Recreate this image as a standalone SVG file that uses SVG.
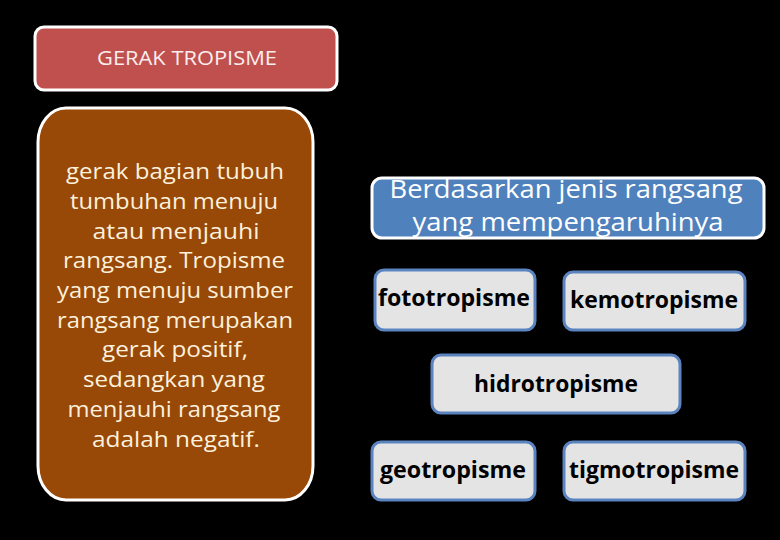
<svg xmlns="http://www.w3.org/2000/svg" width="780" height="540" viewBox="0 0 780 540">
<style>
.bg{fill:#000}
.wbox{stroke:#fff;stroke-width:3}
.item{fill:#e4e4e4;stroke:#5b83c0;stroke-width:3}
.itxt{font-family:"Open Sans","Noto Sans",sans-serif;font-weight:bold;font-size:23px;fill:#000;text-anchor:middle}
.ltxt{font-family:"Open Sans","Noto Sans",sans-serif;font-size:22.5px;fill:#fbf1dc;text-anchor:middle}
.ttl{font-family:"Open Sans","Noto Sans",sans-serif;font-size:20px;fill:#fbeeee;text-anchor:middle}
.btxt{font-family:"Open Sans","Noto Sans",sans-serif;font-size:25px;fill:#fff;text-anchor:middle}
</style>
<defs>
<clipPath id="bclip"><rect x="372" y="178" width="392" height="60" rx="10"/></clipPath>
</defs>
<rect class="bg" x="0" y="0" width="780" height="540"/>
<g id="connectors"></g>
<g id="title">
<rect class="wbox" x="35" y="27" width="302" height="63" rx="9" fill="#c0504d"/>
<text class="ttl" x="187" y="65" textLength="180" lengthAdjust="spacingAndGlyphs">GERAK TROPISME</text>
</g>
<g id="definition">
<rect class="wbox" x="38" y="108" width="275" height="392" rx="28" ry="34" fill="#984807"/>
<text class="ltxt" x="175" y="179" textLength="218" lengthAdjust="spacingAndGlyphs">gerak bagian tubuh</text>
<text class="ltxt" x="174" y="209" textLength="208" lengthAdjust="spacingAndGlyphs">tumbuhan menuju</text>
<text class="ltxt" x="176" y="239" textLength="167" lengthAdjust="spacingAndGlyphs">atau menjauhi</text>
<text class="ltxt" x="174" y="268" textLength="222" lengthAdjust="spacingAndGlyphs">rangsang. Tropisme</text>
<text class="ltxt" x="175" y="298" textLength="236" lengthAdjust="spacingAndGlyphs">yang menuju sumber</text>
<text class="ltxt" x="175" y="328" textLength="236" lengthAdjust="spacingAndGlyphs">rangsang merupakan</text>
<text class="ltxt" x="175" y="357" textLength="146" lengthAdjust="spacingAndGlyphs">gerak positif,</text>
<text class="ltxt" x="174" y="387" textLength="182" lengthAdjust="spacingAndGlyphs">sedangkan yang</text>
<text class="ltxt" x="174" y="417" textLength="213" lengthAdjust="spacingAndGlyphs">menjauhi rangsang</text>
<text class="ltxt" x="176" y="447" textLength="168" lengthAdjust="spacingAndGlyphs">adalah negatif.</text>
</g>
<g id="category">
<rect x="372" y="178" width="392" height="60" rx="10" fill="#4f81bd"/>
<g clip-path="url(#bclip)">
<text class="btxt" x="566" y="198" textLength="353" lengthAdjust="spacingAndGlyphs">Berdasarkan jenis rangsang</text>
<text class="btxt" x="568" y="231" textLength="311" lengthAdjust="spacingAndGlyphs">yang mempengaruhinya</text>
</g>
<rect x="372" y="178" width="392" height="60" rx="10" fill="none" stroke="#fff" stroke-width="3"/>
</g>
<g id="fototropisme">
<rect class="item" x="375" y="270" width="160" height="60" rx="9"/>
<text class="itxt" x="454" y="306" textLength="152" lengthAdjust="spacingAndGlyphs">fototropisme</text>
</g>
<g id="kemotropisme">
<rect class="item" x="564" y="272" width="181" height="58" rx="9"/>
<text class="itxt" x="654" y="308" textLength="168" lengthAdjust="spacingAndGlyphs">kemotropisme</text>
</g>
<g id="hidrotropisme">
<rect class="item" x="432" y="355" width="248" height="58" rx="9"/>
<text class="itxt" x="556" y="392" textLength="164" lengthAdjust="spacingAndGlyphs">hidrotropisme</text>
</g>
<g id="geotropisme">
<rect class="item" x="372" y="442" width="163" height="58" rx="9"/>
<text class="itxt" x="453" y="478" textLength="146" lengthAdjust="spacingAndGlyphs">geotropisme</text>
</g>
<g id="tigmotropisme">
<rect class="item" x="564" y="442" width="181" height="58" rx="9"/>
<text class="itxt" x="654" y="478" textLength="170" lengthAdjust="spacingAndGlyphs">tigmotropisme</text>
</g>
</svg>
